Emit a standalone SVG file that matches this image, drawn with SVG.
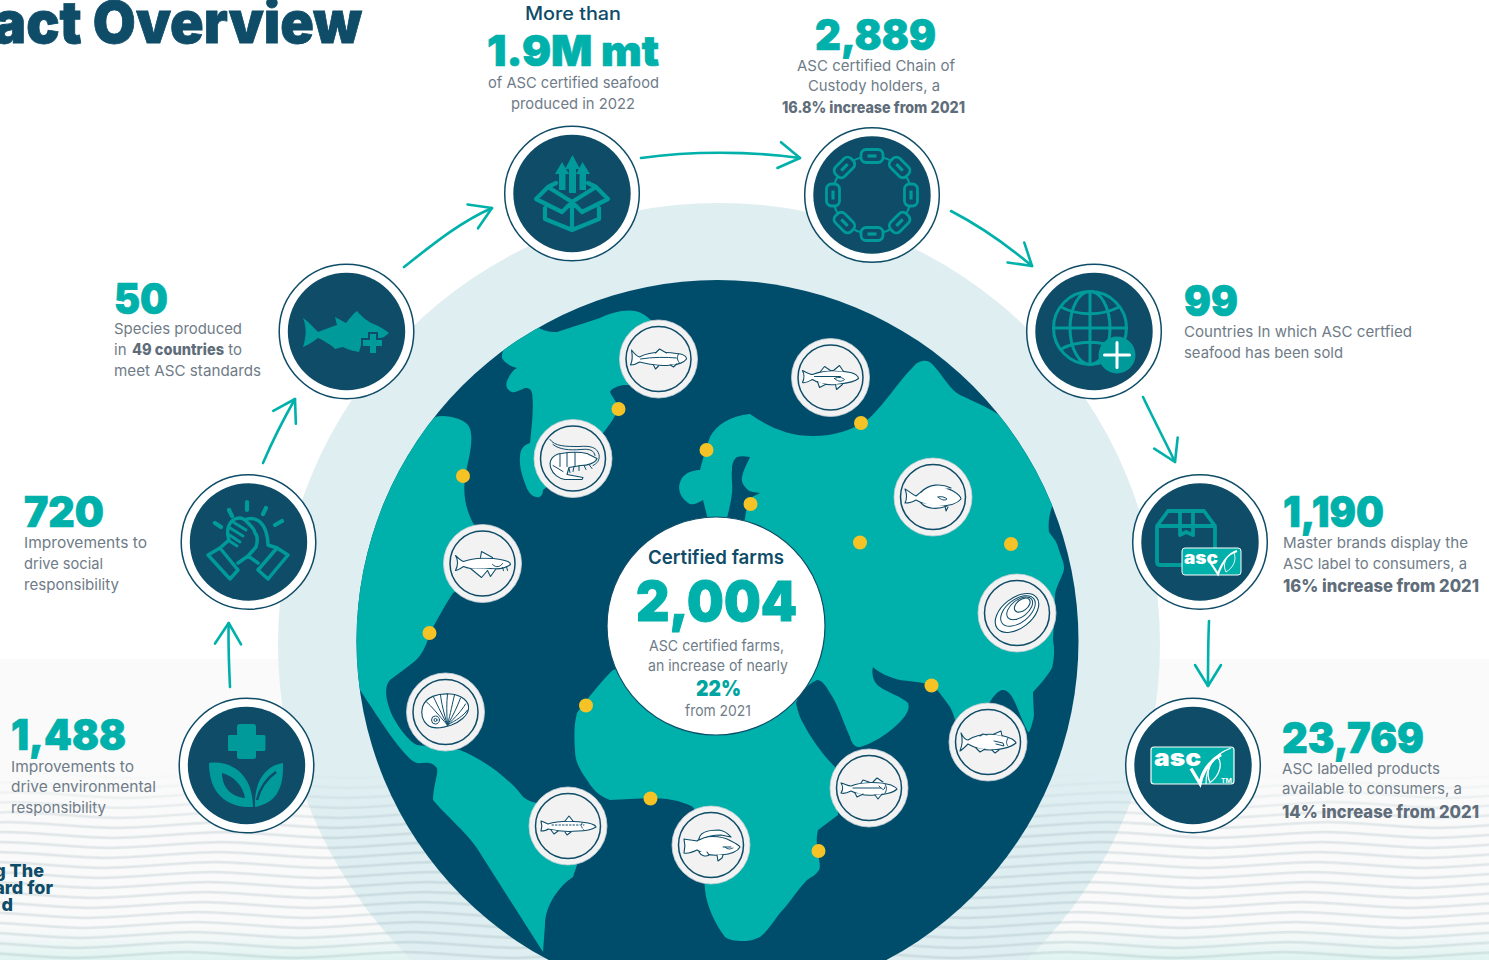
<svg xmlns="http://www.w3.org/2000/svg" xmlns:xlink="http://www.w3.org/1999/xlink" width="1489" height="960" viewBox="0 0 1489 960">
<style>
text{font-family:Inter,"Noto Sans","Liberation Sans",sans-serif}
.num{fill:#00b0aa;stroke:#00b0aa;stroke-width:.7;font-weight:900;font-size:42px}
.b{fill:#6f7c88;font-size:15px;font-weight:400}
.bb{fill:#5f6d7a;font-size:15.5px;font-weight:800}
.d{fill:#0e4c68;font-weight:800}
.ring{fill:#fff;stroke:#0e4c68;stroke-width:1.5}
.core{fill:#0e4c68}
.ic{fill:none;stroke:#009a9a;stroke-width:4.2;stroke-linecap:round;stroke-linejoin:round}
.if{fill:#009a9a}
.land{fill:#00b0aa}
.dot{fill:#f6c326}
.bo{fill:#f2f2f2;stroke:#c9d2d8;stroke-width:.8}
.bi{fill:none;stroke:#0e4c68;stroke-width:1.5}
.l{fill:#fff;stroke:#0e4c68;stroke-width:1.1;stroke-linejoin:round;stroke-linecap:round}
.n{fill:none;stroke:#0e4c68;stroke-width:1;stroke-linecap:round}
.arr{fill:none;stroke:#00b0aa;stroke-width:2.6;stroke-linecap:round;marker-end:url(#head)}
</style>
<defs>
<clipPath id="gc"><circle cx="717.5" cy="641" r="361"/></clipPath>
<marker id="head" markerUnits="userSpaceOnUse" markerWidth="34" markerHeight="34" refX="26" refY="16" orient="auto" overflow="visible"><path d="M5 3L26 16L5 29" fill="none" stroke="#00b0aa" stroke-width="2.6" stroke-linecap="round" stroke-linejoin="round"/></marker>
<pattern id="wp" patternUnits="userSpaceOnUse" width="440" height="20" patternTransform="skewX(-18)">
<path d="M0 5C55 1 55 1 110 5S165 9 220 5S275 1 330 5S385 9 440 5M0 15C55 11 55 11 110 15S165 19 220 15S275 11 330 15S385 19 440 15" fill="none" stroke="#7f9ba6" stroke-width="2.6" stroke-opacity=".2"/>
</pattern>
<linearGradient id="wf" x1="0" y1="0" x2="0" y2="1"><stop offset="0" stop-color="#fff" stop-opacity="0"/><stop offset=".3" stop-color="#fff" stop-opacity="1"/></linearGradient>
<linearGradient id="tint" x1="0" y1="0" x2="0" y2="1"><stop offset="0" stop-color="#e4f4f2" stop-opacity="0"/><stop offset="1" stop-color="#dff3f0"/></linearGradient>
<mask id="wm" maskUnits="userSpaceOnUse" x="0" y="770" width="1489" height="190"><rect y="770" width="1489" height="190" fill="url(#wf)"/></mask>
<g id="link"><rect x="-11" y="-6.500" width="22" height="13" rx="5" fill="#0e4c68" stroke="#009a9a" stroke-width="2.800"/><path d="M-4.500 0H4.500" stroke="#009a9a" stroke-width="3.200"/></g>
<g id="ascfish"><path d="M0 11L9 26C12 12 20 3 30 -3" fill="none" stroke="#fff" stroke-width="3.400"/><path d="M19 25C14 14 20 3 27 0C32 7 28 19 19 25Z" fill="#00b0aa" stroke="#fff" stroke-width="1.300"/></g>
</defs>

<rect width="1489" height="960" fill="#fff"/>
<rect y="659" width="1489" height="301" fill="#fafafa"/>
<rect y="925" width="1489" height="35" fill="url(#tint)"/>
<circle id="halo" cx="719" cy="644" r="441" fill="#dfeef1"/>
<rect id="waves" y="770" width="1489" height="190" fill="url(#wp)" mask="url(#wm)"/>

<text id="title" x="-7" y="43" textLength="369" lengthAdjust="spacingAndGlyphs" class="d" style="font-size:58px;font-weight:900;stroke:#0e4c68;stroke-width:.8">act Overview</text>
<g id="footer" class="d" style="font-size:18px">
<text x="44" y="877" text-anchor="end">g The</text>
<text x="53" y="894" text-anchor="end">ard for</text>
<text x="13" y="911" text-anchor="end">d</text>
</g>

<g id="globe">
<circle cx="717.5" cy="641" r="361" fill="#004d6b"/>
<g clip-path="url(#gc)">
<path id="landA" class="land" d="M502 358C501 350 510 336 522 329C530 326 537 327 541 329C548 332 552 332 557 332L600 318C610 313 625 309 635 311C645 313 655 322 662 335L670 360L650 385L623 385C618 386 612 388 610 392C612 397 617 401 618 409C615 417 610 424 607 428L590 450L543 490C543 495 540 498 537 497C532 497 528 492 526 486C522 476 519 465 520 457C520 450 523 445 530 443C532 425 534 405 532 393C531 389 529 388 525 388C518 391 514 393 512 392C506 390 505 384 508 379C510 374 513 370 517 368C510 366 505 363 502 358Z"/>
<path id="landB" class="land" d="M435 417C445 414 462 418 468 425C474 433 471 450 467 467C462 490 464 505 473 523L500 570L453 593C445 605 437 620 430 633C425 650 420 658 410 665L390 680C384 686 385 700 393 717C400 730 410 742 417 745L460 750C480 758 505 775 520 793C525 800 530 802 545 805L577 865L573 877C560 885 545 905 545 925L543 952L480 853C470 835 445 815 433 800C433 785 440 770 436 767C430 760 422 764 417 763C405 760 380 720 360 690L330 640L350 500Z"/>
<path id="landC" class="land" d="M708 520L703 500C698 503 692 506 688 503C680 497 676 488 682 478C686 472 695 470 700 470C703 458 706 448 710 437C716 425 730 416 750 414C770 428 790 436 813 436C835 436 852 430 867 420C880 410 900 380 913 367C918 360 928 358 933 365C945 378 950 390 960 395C975 402 990 408 1002 417L1090 450L1052 507C1049 515 1048 525 1049 532C1053 538 1056 540 1058 547C1062 560 1066 565 1063 573C1058 585 1055 590 1055 597L1053 640C1055 650 1054 660 1052 668C1048 675 1040 685 1033 692C1033 705 1035 715 1033 720C1031 729 1029 733 1028 732C1024 725 1019 712 1017 707C1012 695 1008 690 1003 690C998 690 993 697 990 702L955 720C953 712 951 709 950 707C945 700 938 690 932 685C920 682 908 681 900 680C890 678 878 672 873 667C871 675 874 683 880 687C887 692 902 697 908 703C910 708 907 713 905 716C897 727 878 742 860 747C854 748 851 741 850 737C843 722 838 704 830 693C826 686 822 680 817 680C808 684 800 692 796 703C798 712 800 718 803 723C812 740 823 755 835 767L838 815L818 830C816 838 817 845 817 850C819 858 821 867 819 870C815 876 811 877 807 880C797 890 790 903 780 913C773 922 767 932 760 937C752 941 747 941 743 941C735 941 729 940 725 937C716 925 707 908 705 890L700 820L693 807C680 800 665 798 650 798L610 800C598 796 592 788 587 780C580 770 575 762 575 750C574 735 574 725 577 713C583 705 600 682 613 670L720 640L745 518C746 510 748 503 750 498L760 493C755 492 750 492 748 490C743 486 741 481 742 477C744 468 748 462 750 457C744 456 740 456 737 457C733 460 732 465 732 470C731 478 733 485 732 493C731 502 729 510 727 518Z"/>
</g>
<circle class="dot" cx="618.500" cy="409" r="7"/><circle class="dot" cx="463" cy="476" r="7"/><circle class="dot" cx="429.500" cy="633" r="7"/><circle class="dot" cx="586" cy="705.500" r="7"/><circle class="dot" cx="650.500" cy="798.500" r="7"/><circle class="dot" cx="818.500" cy="851" r="7"/><circle class="dot" cx="931.500" cy="685.500" r="7"/><circle class="dot" cx="1011" cy="544" r="7"/><circle class="dot" cx="860" cy="542.500" r="7"/><circle class="dot" cx="861" cy="423" r="7"/><circle class="dot" cx="750.500" cy="504" r="7"/><circle class="dot" cx="706.500" cy="450" r="7"/>
</g>

<g id="badge-salmon" transform="translate(658.500 359)"><circle class="bo" r="39"/><circle class="bi" r="32.500"/>
<path class="l" d="M-27 -9C-24 -5 -22 -3 -19 -2C-8 -8 10 -7 22 -5C26 -4 28 -2 28 0C26 3 20 6 12 6C0 8 -10 5 -19 3C-22 5 -25 6 -28 6C-26 2 -26 -4 -27 -9Z"/><path class="l" d="M-3 -6L1 -10L8 -6M-5 6L-3 10L0 7M12 6L15 8L18 5"/><path class="n" d="M-18 0C-6 -2 8 -2 18 -1M20 -5C18 -2 19 2 21 4"/></g>
<g id="badge-shrimp" transform="translate(573 458.500)"><circle class="bo" r="39"/><circle class="bi" r="32.500"/>
<path class="n" d="M-23 -19C-18 -12 -8 -12 6 -12C18 -13 24 -11 26 -4C27 2 24 5 20 7M-20 -14C-14 -9 -4 -8 8 -9C17 -10 21 -8 22 -3"/>
<path class="l" d="M-22 10C-25 2 -20 -4 -12 -5C0 -7 10 -6 14 -5L24 0C22 5 14 7 8 7L-4 9L-6 16L10 19L9 21H-8C-14 20 -20 16 -22 10Z"/>
<path class="n" d="M-13 -5V8M-6 -6V8M2 -6V8M-20 7L-10 13M-4 10L-3 14M1 8L0 13M6 7L6 12M11 7L13 11M16 6L19 10"/></g>
<g id="badge-catfish" transform="translate(482.500 563.500)"><circle class="bo" r="39"/><circle class="bi" r="32.500"/>
<path class="l" d="M-27 -8C-24 -5 -22 -3 -19 -2C-8 -6 8 -6 18 -4C24 -3 28 -1 28 1C24 4 16 6 8 5C-2 6 -12 6 -19 3C-22 5 -25 7 -27 7C-25 3 -24 -3 -27 -8Z"/><path class="l" d="M-2 -6L-1 -12L10 -6M-12 5L-1 14L5 7L8 13L13 6"/><path class="n" d="M10 1C14 5 18 3 20 0M24 3L25 7M20 4L21 7"/></g>
<g id="badge-abalone" transform="translate(445.500 712)"><circle class="bo" r="39"/><circle class="bi" r="32.500"/>
<path class="l" d="M-23 -5C-20 -15 -8 -19 5 -18C17 -17 24 -10 23 -3C22 4 14 10 6 13C-3 16 -12 18 -18 13C-23 9 -25 2 -23 -5Z"/>
<path class="n" d="M2 13C-8 2 -14 -6 -19 -10M2 13C-5 0 -9 -9 -12 -15M2 13C-2 0 -4 -9 -5 -17M2 13C1 1 1 -9 2 -18M2 13C5 1 7 -9 9 -17M2 13C8 3 12 -6 15 -14M2 13C10 5 16 -1 20 -8M2 13C11 8 18 4 22 -2"/><circle class="n" cx="-10" cy="8" r="4"/><circle class="n" cx="-10" cy="8" r="1.500"/></g>
<g id="badge-trout" transform="translate(568 826)"><circle class="bo" r="39"/><circle class="bi" r="32.500"/>
<path class="l" d="M-27 -5C-24 -4 -22 -3 -20 -2C-8 -6 10 -5 20 -3C25 -2 28 0 28 1C25 3 18 5 10 5C0 6 -12 5 -20 3C-22 5 -25 5 -27 5C-26 2 -26 -2 -27 -5Z"/><path class="l" d="M-3 -5L1 -10L5 -5M-17 4L-14 8L-10 5M-3 6L-1 9L3 6"/><path class="n" d="M-16 -1H16M14 -3C13 0 14 3 16 4" stroke-dasharray="1.500 2"/></g>
<g id="badge-tilapia" transform="translate(711 845)"><circle class="bo" r="39"/><circle class="bi" r="32.500"/>
<path class="l" d="M-27 -6C-22 -5 -18 -5 -14 -4C-8 -10 10 -10 20 -4C24 -2 28 0 29 2C27 6 20 9 10 10C0 11 -8 9 -14 5C-18 7 -22 9 -27 8C-26 4 -26 -2 -27 -6Z"/><path class="l" d="M-12 -5C-12 -12 -4 -15 8 -15C15 -14 17 -11 20 -8L10 -10C0 -10 -6 -8 -12 -5ZM-12 7C-10 11 -5 12 -2 10L-4 7M6 10L7 16L11 13L12 10"/><path class="n" d="M14 2C17 5 20 4 22 3M12 2H20"/></g>
<g id="badge-bass2" transform="translate(869 788)"><circle class="bo" r="39"/><circle class="bi" r="32.500"/>
<path class="l" d="M-28 -5C-24 -4 -21 -2 -18 -2C-6 -7 12 -6 22 -3C26 -1 28 0 28 1C24 5 14 7 6 7C-4 8 -12 6 -18 3C-22 5 -25 6 -28 5C-26 2 -26 -2 -28 -5Z"/><path class="l" d="M-8 -5L-6 -8L0 -6M4 -6L8 -10L14 -6M-14 5L-12 9L-6 6M6 7L9 11L13 6"/><path class="n" d="M-16 0H12M10 -2C14 2 15 3 16 -1M16 -4C18 -1 18 2 16 5"/></g>
<g id="badge-tuna" transform="translate(988 742)"><circle class="bo" r="39"/><circle class="bi" r="32.500"/>
<path class="l" d="M-27 -9C-25 -5 -23 -2 -20 -2C-8 -10 12 -9 24 -3C27 -1 28 0 28 1C22 6 10 8 2 8C-8 8 -15 5 -20 2C-23 5 -26 8 -28 9C-26 4 -25 -3 -27 -9Z"/><path class="l" d="M-8 -6L-5 -8L-1 -7M6 -8L13 -11L14 -6M-12 6L-8 10L-3 7M4 8L7 11L11 8"/><path class="n" d="M6 -1L15 1L16 4L8 2M20 -4C18 -1 18 2 20 4"/></g>
<g id="badge-oyster" transform="translate(1017 613)"><circle class="bo" r="39"/><circle class="bi" r="32.500"/>
<g transform="rotate(-38)"><ellipse class="l" rx="25" ry="15"/><ellipse class="n" cx="2" cy="-1" rx="20" ry="11.500"/><ellipse class="n" cx="5" cy="-2" rx="15" ry="8.500"/><ellipse class="l" cx="9" cy="-3" rx="9" ry="5.500"/></g></g>
<g id="badge-halibut" transform="translate(933 497)"><circle class="bo" r="39"/><circle class="bi" r="32.500"/>
<path class="l" d="M-28 -8C-24 -6 -20 -2 -17 -1C-8 -10 8 -13 20 -6C25 -3 28 0 28 2C24 7 14 9 6 9C-4 9 -12 6 -17 3C-20 5 -24 6 -28 6C-26 2 -26 -3 -28 -8Z"/><path class="l" d="M-12 -5C-4 -13 8 -14 18 -9M-12 6C-6 12 4 13 14 9M12 9L13 14L15 10"/><path class="n" d="M5 0C8 3 12 4 14 2C12 0 8 -1 5 0"/></g>
<g id="badge-bass" transform="translate(830.500 377.500)"><circle class="bo" r="39"/><circle class="bi" r="32.500"/>
<path class="l" d="M-28 -7C-24 -5 -21 -3 -18 -3C-6 -8 10 -7 20 -5C25 -4 28 -1 28 1C24 5 14 6 6 7C-4 8 -12 6 -18 2C-22 4 -25 6 -28 5C-26 1 -26 -3 -28 -7Z"/><path class="l" d="M-10 -6L-6 -11L0 -7M3 -7L9 -12L13 -6M-13 4L-11 10L-5 7M5 7L6 12L12 7"/><path class="n" d="M-16 -1H10M4 1C8 5 12 4 14 2C12 0 8 -1 4 1"/></g>

<g id="center">
<circle cx="716" cy="626" r="109" fill="#fff" stroke="#0e4c68" stroke-width="1.200"/>
<text x="648" y="564" textLength="136" lengthAdjust="spacingAndGlyphs" style="font-size:19px;font-weight:600;fill:#0e4c68">Certified farms</text>
<text class="num" x="636" y="621" textLength="161" lengthAdjust="spacingAndGlyphs" style="font-size:55px;stroke-width:1">2,004</text>
<text class="b" x="649" y="651" textLength="135" lengthAdjust="spacingAndGlyphs">ASC certified farms,</text>
<text class="b" x="648" y="671" textLength="140" lengthAdjust="spacingAndGlyphs">an increase of nearly</text>
<text x="696" y="696" textLength="45" lengthAdjust="spacingAndGlyphs" style="font-size:22px;font-weight:900;fill:#00a5a0">22%</text>
<text class="b" x="685" y="716" textLength="66" lengthAdjust="spacingAndGlyphs">from 2021</text>
</g>

<g id="connectors">
<path class="arr" d="M230 687C229 665 228 645 228.700 623"/>
<path class="arr" d="M263 463C272 442 283 420 295 399"/>
<path class="arr" d="M404 267C432 245 460 222 492 208"/>
<path class="arr" d="M641 158C690 151 750 151 800 158"/>
<path class="arr" d="M951 211C980 226 1007 245 1032 266"/>
<path class="arr" d="M1143 397C1154 420 1165 441 1175 462"/>
<path class="arr" d="M1209 621C1208 645 1208 665 1208 686"/>
</g>

<g id="node-box" transform="translate(572 193.500)"><circle class="ring" r="67.300"/><circle class="core" r="58.700"/>
<g transform="translate(-572 -193.500)">
<path class="ic" d="M556 183L548 187L536 199L562 212L572 202L582 212L608 199L596 187L588 183M548 187L572 202L596 187M545 208V219L572 230L599 219V208M572 202V230"/>
<path class="if" d="M572.500 155L580 169H576V193H569V169H565Z"/><path class="if" d="M562 162L569 174H565.500V190H559V174H555Z"/><path class="if" d="M582.500 162L590 174H586V190H579.500V174H576Z"/>
</g></g>

<g id="node-chain" transform="translate(872 195)"><circle class="ring" r="67.300"/><circle class="core" r="58.700"/>
<circle r="39" fill="none" stroke="#009a9a" stroke-width="2.200"/>
<use xlink:href="#link" href="#link" transform="translate(0 -39)"/><use xlink:href="#link" href="#link" transform="rotate(45) translate(0 -39)"/><use xlink:href="#link" href="#link" transform="rotate(90) translate(0 -39)"/><use xlink:href="#link" href="#link" transform="rotate(135) translate(0 -39)"/><use xlink:href="#link" href="#link" transform="rotate(180) translate(0 -39)"/><use xlink:href="#link" href="#link" transform="rotate(225) translate(0 -39)"/><use xlink:href="#link" href="#link" transform="rotate(270) translate(0 -39)"/><use xlink:href="#link" href="#link" transform="rotate(315) translate(0 -39)"/>
</g>

<g id="node-globe" transform="translate(1094 331.500)"><circle class="ring" r="67.300"/><circle class="core" r="58.700"/>
<g transform="translate(-4 -3.500)" class="ic" style="stroke-width:3">
<circle r="36.500"/><ellipse rx="20" ry="36.500"/><path d="M0 -36.500V36.500M-36.500 0H36.500M-29 -21C-12 -12 12 -12 29 -21M-29 21C-12 12 12 12 29 21"/></g>
<circle cx="23" cy="23.500" r="18.500" fill="#009a9a"/><path d="M23 11V36M10.500 23.500H35.500" stroke="#fff" stroke-width="3" fill="none" stroke-linecap="round"/>
</g>

<g id="node-label" transform="translate(1200 542)"><circle class="ring" r="67.300"/><circle class="core" r="58.700"/>
<g transform="translate(-1200 -542)">
<path class="ic" d="M1182 565H1160C1158 565 1157 564 1157 562V526L1168 511H1204L1215 526V548M1157 526H1215M1180 511V526M1193 511V526M1180 526V535L1186 532L1193 535V526" style="stroke-width:3.800"/>
<rect x="1182" y="548" width="59" height="27" rx="3" fill="#00b0aa" stroke="#fff" stroke-width="1"/>
<text x="1184" y="564" textLength="34" lengthAdjust="spacingAndGlyphs" style="font-size:17px;font-weight:900;fill:#fff">asc</text>
<path d="M1210 562L1218 574C1222 563 1228 554 1237 551" fill="none" stroke="#fff" stroke-width="2.200"/>
<path d="M1226 572C1222 564 1226 556 1234 553C1237 560 1233 568 1226 572Z" fill="#00b0aa" stroke="#fff" stroke-width=".9"/>
</g></g>

<g id="node-asc" transform="translate(1193 765.500)"><circle class="ring" r="67.300"/><circle class="core" r="58.700"/>
<g transform="translate(-1193 -765.500)">
<rect x="1151" y="747" width="83" height="37" rx="3" fill="#00b0aa" stroke="#fff" stroke-width="1.200"/>
<text x="1154" y="765.500" textLength="47" lengthAdjust="spacingAndGlyphs" style="font-size:24px;font-weight:900;fill:#fff">asc</text>
<use xlink:href="#ascfish" href="#ascfish" transform="translate(1191 757.500)"/>
<path d="M1206 784C1206 768 1212 755 1231 748" fill="none" stroke="#fff" stroke-width="1.200"/>
<text x="1221" y="783" textLength="11" lengthAdjust="spacingAndGlyphs" style="font-size:5.500px;font-weight:700;fill:#fff">TM</text>
</g></g>

<g id="node-plant" transform="translate(246.500 765.500)"><circle class="ring" r="67.300"/><circle class="core" r="58.700"/>
<g transform="translate(-246.500 -765.500)">
<path class="if" d="M240 724H253C255 724 256 725 256 727V735H264C265 735 265.500 736 265.500 737V749C265.500 750 265 751 264 751H256V757C256 758 255 759 253 759H240C238 759 237 758 237 757V751H229C228 751 228 750 228 749V737C228 736 228 735 229 735H237V727C237 725 238 724 240 724Z"/>
<path class="if" fill-rule="evenodd" d="M209 763C232 760 253 775 253 807C228 808 209 795 209 763ZM222 773C222 788 232 797 245 798C243 786 234 776 222 773Z"/>
<path class="if" d="M283 763C284 790 275 803 255 807C254 783 264 766 283 763Z"/><path d="M257 800C260 788 266 779 276 772" stroke="#0e4c68" stroke-width="2.500" fill="none"/>
</g></g>

<g id="node-hands" transform="translate(248.500 542)"><circle class="ring" r="67.300"/><circle class="core" r="58.700"/>
<g transform="translate(-248.500 -542)" class="ic">
<path d="M215 523L221 527M229 510L232 516M247 502V510M266 508L263 514M282 521L275 525"/>
<path d="M208 555L220 548L238 570L230 579ZM288 555L277 548L258 570L268 579Z" stroke-width="3.500"/>
<path d="M220 548L229 540C226 532 228 522 235 519C240 517 243 518 245 520C250 517 258 519 261 523C266 528 268 538 268 545L277 548M238 563L248 556L258 563M248 556L256 547C258 540 258 536 255 533C255 529 250 525 245 520" stroke-width="3.500"/>
<path d="M233 522L246 530M230 528L243 536M228 534L240 542M228 540L237 546" stroke-width="3"/>
</g></g>

<g id="node-fish" transform="translate(346.500 331.500)"><circle class="ring" r="67.300"/><circle class="core" r="58.700"/>
<g transform="translate(-346.500 -331.500)">
<path class="if" d="M303 318C309 322 314 328 318 332C325 329 331 327 337 325L335 317L346 323C350 318 354 313 357 311C362 317 368 322 376 325C381 327 385 330 389 333L384 337L378 339L372 341L362 342L359 352C352 351 347 349 343 347L335 349L333 347C329 344 323 340 318 338C313 342 308 345 303 347C306 338 307 328 303 318Z"/>
<path d="M369 333H377V339H383V347H377V354H369V347H362V339H369Z" fill="#009a9a" stroke="#0e4c68" stroke-width="2"/>
</g></g>

<g id="stat-top1">
<text x="525" y="20" textLength="96" lengthAdjust="spacingAndGlyphs" style="font-size:18px;font-weight:500;fill:#0e4c68">More than</text>
<text class="num" x="487" y="66" textLength="172" lengthAdjust="spacingAndGlyphs">1.9M mt</text>
<text class="b" x="488" y="87.500" textLength="171" lengthAdjust="spacingAndGlyphs">of ASC certified seafood</text>
<text class="b" x="511" y="108.500" textLength="124" lengthAdjust="spacingAndGlyphs">produced in 2022</text>
</g>
<g id="stat-top2">
<text class="num" x="815" y="50" textLength="121" lengthAdjust="spacingAndGlyphs">2,889</text>
<text class="b" x="797" y="71" textLength="158" lengthAdjust="spacingAndGlyphs">ASC certified Chain of</text>
<text class="b" x="808" y="91" textLength="132" lengthAdjust="spacingAndGlyphs">Custody holders, a</text>
<text class="bb" x="782" y="113" textLength="183" lengthAdjust="spacingAndGlyphs">16.8% increase from 2021</text>
</g>
<g id="stat-99">
<text class="num" x="1184" y="316" textLength="54" lengthAdjust="spacingAndGlyphs">99</text>
<text class="b" x="1184" y="336.500" textLength="228" lengthAdjust="spacingAndGlyphs">Countries In which ASC certfied</text>
<text class="b" x="1184" y="357.500" textLength="159" lengthAdjust="spacingAndGlyphs">seafood has been sold</text>
</g>
<g id="stat-1190">
<text class="num" x="1283" y="527" textLength="101" lengthAdjust="spacingAndGlyphs">1,190</text>
<text class="b" x="1283" y="548" textLength="185" lengthAdjust="spacingAndGlyphs">Master brands display the</text>
<text class="b" x="1283" y="569" textLength="184" lengthAdjust="spacingAndGlyphs">ASC label to consumers, a</text>
<text class="bb" x="1283" y="592" textLength="196" lengthAdjust="spacingAndGlyphs" style="font-size:17px">16% increase from 2021</text>
</g>
<g id="stat-23769">
<text class="num" x="1282" y="753" textLength="142" lengthAdjust="spacingAndGlyphs">23,769</text>
<text class="b" x="1282" y="774" textLength="158" lengthAdjust="spacingAndGlyphs">ASC labelled products</text>
<text class="b" x="1282" y="794" textLength="180" lengthAdjust="spacingAndGlyphs">available to consumers, a</text>
<text class="bb" x="1282" y="818" textLength="197" lengthAdjust="spacingAndGlyphs" style="font-size:17px">14% increase from 2021</text>
</g>
<g id="stat-1488">
<text class="num" x="11" y="750" textLength="115" lengthAdjust="spacingAndGlyphs">1,488</text>
<text class="b" x="11" y="772" textLength="123" lengthAdjust="spacingAndGlyphs">Improvements to</text>
<text class="b" x="11" y="792" textLength="145" lengthAdjust="spacingAndGlyphs">drive environmental</text>
<text class="b" x="11" y="813" textLength="95" lengthAdjust="spacingAndGlyphs">responsibility</text>
</g>
<g id="stat-720">
<text class="num" x="24" y="527" textLength="80" lengthAdjust="spacingAndGlyphs">720</text>
<text class="b" x="24" y="548" textLength="123" lengthAdjust="spacingAndGlyphs">Improvements to</text>
<text class="b" x="24" y="569" textLength="79" lengthAdjust="spacingAndGlyphs">drive social</text>
<text class="b" x="24" y="590" textLength="95" lengthAdjust="spacingAndGlyphs">responsibility</text>
</g>
<g id="stat-50">
<text class="num" x="114" y="314" textLength="54" lengthAdjust="spacingAndGlyphs">50</text>
<text class="b" x="114" y="334" textLength="128" lengthAdjust="spacingAndGlyphs">Species produced</text>
<text class="b" y="355"><tspan x="114">in </tspan><tspan x="132" class="bb" textLength="92" lengthAdjust="spacingAndGlyphs">49 countries</tspan><tspan x="224"> to</tspan></text>
<text class="b" x="114" y="376" textLength="147" lengthAdjust="spacingAndGlyphs">meet ASC standards</text>
</g>
</svg>
